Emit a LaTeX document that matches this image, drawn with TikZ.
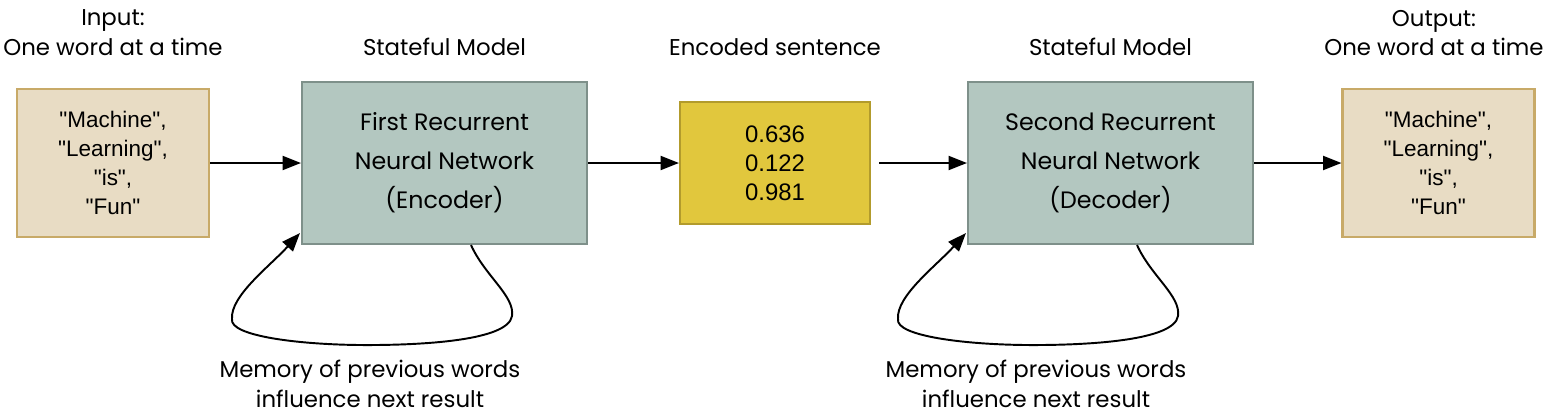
\documentclass[tikz,border=0pt]{standalone}
\usepackage{fontspec}
\setmainfont{Liberation Sans}
\newfontfamily\helvfont{Liberation Sans}
\newfontfamily\geofont{Poppins}
\usetikzlibrary{arrows.meta,calc}

\definecolor{motfill}{HTML}{E8DCC4}
\definecolor{motline}{HTML}{C8AA68}
\definecolor{rnnfill}{HTML}{B3C7C0}
\definecolor{rnnline}{HTML}{7E908A}
\definecolor{codefill}{HTML}{E1C73D}
\definecolor{codeline}{HTML}{B29B2C}

\begin{document}
\begin{tikzpicture}[x=0.02cm, y=-0.02cm]
\tikzset{motbox/.style={draw=motline, fill=motfill, line width=1.2pt, minimum width=3.84cm, minimum height=2.96cm, align=center, font=\helvfont\fontsize{12.8}{16.5}\selectfont},
  rnnbox/.style={draw=rnnline, fill=rnnfill, line width=1.2pt, minimum width=5.7cm, minimum height=3.24cm, align=center, font=\geofont\fontsize{13.5}{22.2}\selectfont},
  codebox/.style={draw=codeline, fill=codefill, line width=1.2pt, minimum width=3.8cm, minimum height=2.44cm, align=center, font=\helvfont\fontsize{13.6}{16.5}\selectfont},
  titre/.style={align=center, font=\geofont\fontsize{13}{17}\selectfont},
  fleche/.style={-{Triangle[length=10.5pt,width=8pt]}, line width=1.1pt},
  boucle/.style={-{Triangle[length=10.5pt,width=8pt]}, line width=1.1pt}}
\useasboundingbox (0,0) rectangle (1547,416);
\node[motbox] (In) at (113,163) {"Machine",\\"Learning",\\"is",\\"Fun"};
\node[rnnbox] (Enc) at (444.5,163) {First Recurrent\\Neural Network\\(Encoder)};
\node[codebox] (Code) at (775,163) {0.636\\0.122\\0.981};
\node[rnnbox] (Dec) at (1110.5,163) {Second Recurrent\\Neural Network\\(Decoder)};
\node[motbox] (Out) at (1438.5,163) {"Machine",\\"Learning",\\"is",\\"Fun"};
\node[titre] (TIn) at (113,33) {Input:\\One word at a time};
\node[titre] (TEnc) at (444.5,47) {Stateful Model};
\node[titre] (TCode) at (775,47) {Encoded sentence};
\node[titre] (TDec) at (1110.5,47) {Stateful Model};
\node[titre] (TOut) at (1434,33) {Output:\\One word at a time};
\node[titre] (MEnc) at (370,384) {Memory of previous words\\influence next result};
\node[titre] (MDec) at (1036,384) {Memory of previous words\\influence next result};
\draw[fleche] (In) -- (Enc);
\draw[fleche] (Enc) -- (Code);
\draw[fleche] ([xshift=0.16cm]Code.east) -- (Dec);
\draw[fleche] (Dec) -- (Out);
\foreach \m in {Enc,Dec}{
  \coordinate (\m-a) at ($(\m.south)+(26.5,0)$);
  \coordinate (\m-b) at ($(\m.south)+(67.5,71)$);
  \coordinate (\m-c) at ($(\m.south)+(-77.5,100)$);
  \coordinate (\m-d) at ($(\m.south)+(-212.5,74)$);
  \coordinate (\m-e) at ($(\m.south west)+(-1,-12)$);
  \draw[boucle] (\m-a) .. controls +(14,31) and +(3,-20) .. (\m-b)
    .. controls +(-4,25) and +(53,0) .. (\m-c)
    .. controls +(-67,0) and +(-3,17) .. (\m-d)
    .. controls +(-2,-23) and +(-30,33) .. (\m-e);
}
\end{tikzpicture}
\end{document}
